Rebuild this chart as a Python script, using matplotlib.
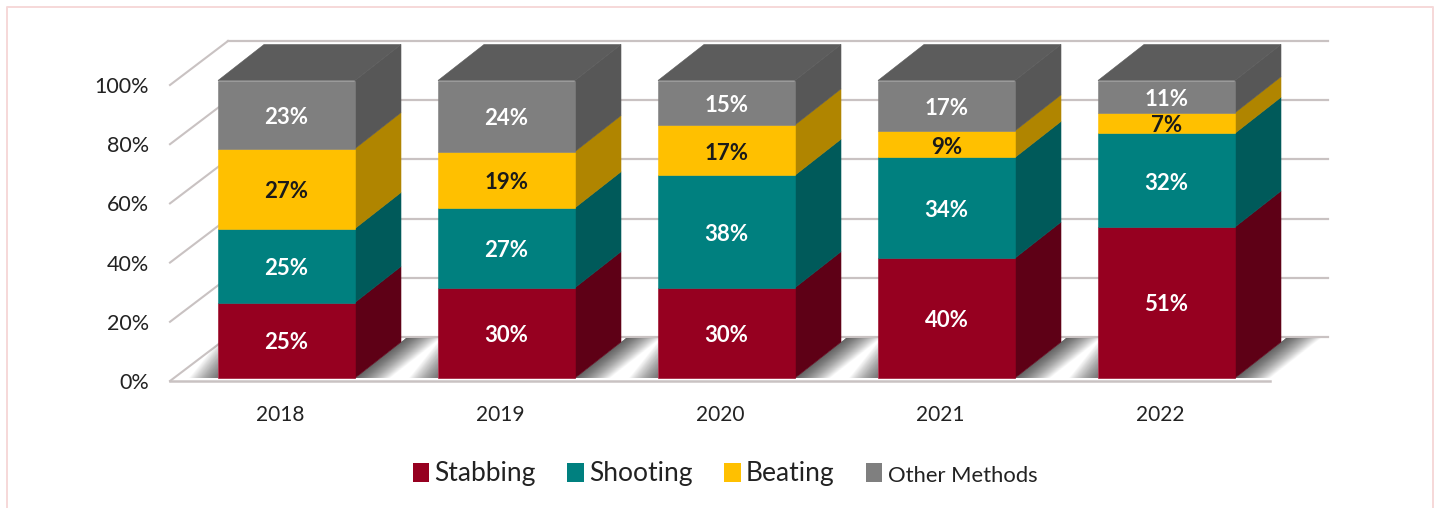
import matplotlib
matplotlib.use("Agg")
import matplotlib.pyplot as plt
from matplotlib.lines import Line2D
from matplotlib.patches import Patch, Polygon

years = ["2018", "2019", "2020", "2021", "2022"]
stabbing = [25, 30, 30, 40, 51]
shooting = [25, 27, 38, 34, 32]
beating = [27, 19, 17, 9, 7]
other = [23, 24, 15, 17, 11]
y_ticks = [0, 20, 40, 60, 80, 100]

series_names = ["Stabbing", "Shooting", "Beating", "Other Methods"]
series_values = [stabbing, shooting, beating, other]
front_colors = ["#960020", "#00807F", "#FFC000", "#7F7F7F"]
side_colors = ["#5E0016", "#005A5A", "#B08500", "#575757"]
label_colors = ["white", "white", "#1A1A1A", "white"]
TOP_COLOR = "#5C5C5C"
GRID_COLOR = "#C9C2C2"
TEXT_COLOR = "#222222"

W, H = 1439, 508
PX_X = 220.0  # pixels per category
PX_Y = 2.96   # pixels per percent

plt.rcParams["font.family"] = ["Lato", "DejaVu Sans"]

fig = plt.figure(figsize=(W / 100, H / 100), dpi=100)
ax = fig.add_axes([170 / W, 1 - 381 / H, 1100 / W, 296 / H])
ax.set_xlim(-0.5, 4.5)
ax.set_ylim(0, 100)

# oblique depth, in data units
wall_dx, wall_dy = 58 / PX_X, 44 / PX_Y
bar_dx, bar_dy = 46 / PX_X, 36 / PX_Y
bar_w = 137 / PX_X
bar_shift = 6.5 / PX_X
bar_floor = 3 / PX_Y
bar_lift = 4.5 / PX_Y


def face(points, color, z, alpha=None):
    ax.add_patch(Polygon(points, closed=True, facecolor=color, edgecolor=color if alpha is None else "none",
                         linewidth=0.4 if alpha is None else 0, alpha=alpha, zorder=z, clip_on=False))


# back wall lines and diagonal ticks
for t in y_ticks:
    ax.plot([-0.5, -0.5 + wall_dx], [t, t + wall_dy], color=GRID_COLOR, lw=1.5, zorder=1, clip_on=False)
    ax.plot([-0.5 + wall_dx, 4.5 + wall_dx], [t + wall_dy, t + wall_dy], color=GRID_COLOR, lw=1.6, zorder=1, clip_on=False)
ax.plot([-0.5, 4.5], [0, 0], color=GRID_COLOR, lw=1.8, zorder=6, clip_on=False)

shadow_top = wall_dy - 1 / PX_Y
for i in range(len(years)):
    x0 = i - bar_w / 2 + bar_shift
    x1 = i + bar_w / 2 + bar_shift

    # floor shadows: nested shapes build up a soft edge
    slope = bar_dx / bar_dy
    x_top = x1 + slope * (shadow_top - bar_floor)
    for k in range(1, 36):
        off = k / PX_X
        face([(x1, bar_floor), (x_top, shadow_top), (x_top + off, shadow_top), (x1 + off, bar_floor)],
             "#000000", 2, alpha=0.022)
    for k in range(1, 30):
        off = k / PX_X
        top_y = bar_floor + k * 0.42
        face([(x0 - off, bar_floor), (x0, bar_floor), (x0, top_y)], "#000000", 2, alpha=0.022)

    total = sum(v[i] for v in series_values)
    bottom = 0.0
    for n, (vals, fc, sc, lc) in enumerate(zip(series_values, front_colors, side_colors, label_colors)):
        h = vals[i] * 100 / total
        y0 = bar_lift + bottom
        y1 = y0 + h
        y_low = bar_floor if n == 0 else y0  # the bottom segment sits on the floor
        face([(x0, y_low), (x1, y_low), (x1, y1), (x0, y1)], fc, 4)
        face([(x1, y_low), (x1 + bar_dx, y_low + bar_dy), (x1 + bar_dx, y1 + bar_dy), (x1, y1)], sc, 3)
        ax.text((x0 + x1) / 2, (y0 + y1) / 2 - 1, f"{vals[i]}%", color=lc, fontsize=16, fontweight="bold",
                ha="center", va="center", zorder=5)
        bottom += h
    y_top = bar_lift + bottom
    face([(x0, y_top), (x1, y_top), (x1 + bar_dx, y_top + bar_dy), (x0 + bar_dx, y_top + bar_dy)], TOP_COLOR, 3)

ax.set_xticks(range(len(years)))
ax.set_xticklabels(years)
ax.set_yticks(y_ticks)
ax.set_yticklabels([f"{t}%" for t in y_ticks])
ax.tick_params(axis="x", length=0, pad=17.5, labelsize=15, labelcolor=TEXT_COLOR)
ax.tick_params(axis="y", length=0, pad=15, labelsize=15.5, labelcolor=TEXT_COLOR)
for s in ax.spines.values():
    s.set_visible(False)
ax.patch.set_alpha(0)

handles = [Patch(facecolor=c, edgecolor="none") for c in front_colors]
leg = fig.legend(handles, series_names, loc="center", bbox_to_anchor=(725 / W, 1 - 474 / H), ncol=4, frameon=False,
                 fontsize=19, handlelength=0.62, handleheight=0.7, handletextpad=0.2, columnspacing=1.2,
                 labelcolor=TEXT_COLOR)
leg.get_texts()[3].set_fontsize(15.8)

# pink frame, open at the bottom
fig.add_artist(Line2D([6.5 / W, 6.5 / W, 1433 / W, 1433 / W], [0, 1 - 6.5 / H, 1 - 6.5 / H, 0],
                      color="#F6D8D8", lw=1.4, transform=fig.transFigure))

fig.savefig("out.png", dpi=100)
